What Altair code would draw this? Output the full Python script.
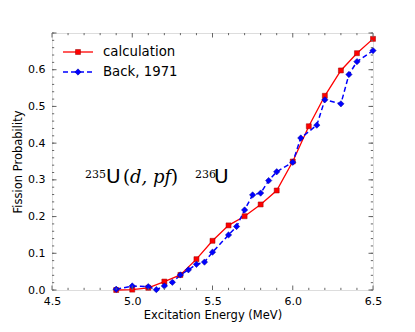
import altair as alt
import pandas as pd

calc_energy = [4.9, 5.0, 5.1, 5.2, 5.3, 5.4, 5.5, 5.6, 5.7, 5.8, 5.9, 6.0, 6.1, 6.2, 6.3, 6.4, 6.5]
calc_prob = [0.0, 0.001, 0.006, 0.023, 0.041, 0.084, 0.134, 0.176, 0.201, 0.233, 0.271, 0.350,
             0.446, 0.529, 0.598, 0.645, 0.684]
back_energy = [4.9, 5.0, 5.1, 5.15, 5.2, 5.25, 5.3, 5.35, 5.4, 5.45, 5.5, 5.6, 5.65, 5.7, 5.75,
               5.8, 5.85, 5.9, 6.0, 6.05, 6.15, 6.2, 6.3, 6.35, 6.4, 6.5]
back_prob = [0.002, 0.011, 0.009, 0.001, 0.011, 0.021, 0.041, 0.055, 0.070, 0.076, 0.103, 0.150,
             0.173, 0.218, 0.259, 0.264, 0.298, 0.322, 0.348, 0.414, 0.449, 0.518, 0.507, 0.587,
             0.622, 0.652]
x_major = [4.5, 5.0, 5.5, 6.0, 6.5]
x_minor = [4.6, 4.7, 4.8, 4.9, 5.1, 5.2, 5.3, 5.4, 5.6, 5.7, 5.8, 5.9, 6.1, 6.2, 6.3, 6.4]
y_major = [0.0, 0.1, 0.2, 0.3, 0.4, 0.5, 0.6, 0.7]
y_labels = [0.0, 0.1, 0.2, 0.3, 0.4, 0.5, 0.6]
y_minor = [round(i * 0.02, 2) for i in range(36)]

W, H = 321, 257
FRAME = "#666666"
RED = "#ff0000"
BLUE = "#0000ff"
SANS = "DejaVu Sans"
SERIF = "DejaVu Serif"

xs = alt.Scale(domain=[4.5, 6.5], nice=False, zero=False)
ys = alt.Scale(domain=[0, 0.7], nice=False)

calc_df = pd.DataFrame({"E": calc_energy, "P": calc_prob})
back_df = pd.DataFrame({"E": back_energy, "P": back_prob})

xaxis = alt.Axis(values=x_major, format=".1f", title="Excitation Energy (MeV)", ticks=False,
                 domain=False, grid=False, labelFlush=False, labelOverlap=False, labelPadding=5,
                 titlePadding=3, labelFont=SANS, labelFontSize=11, titleFont=SANS,
                 titleFontSize=11.5, titleFontWeight="normal", labelColor="black",
                 titleColor="black")
yaxis = alt.Axis(values=y_labels, format=".1f", title="Fission Probability", ticks=False,
                 domain=False, grid=False, labelFlush=False, labelOverlap=False, labelPadding=7,
                 titlePadding=4, labelFont=SANS, labelFontSize=11, titleFont=SANS,
                 titleFontSize=11.5, titleFontWeight="normal", labelColor="black",
                 titleColor="black")


def X(f):
    return alt.X(f, scale=xs, axis=xaxis, title="Excitation Energy (MeV)")


def Y(f):
    return alt.Y(f, scale=ys, axis=yaxis, title="Fission Probability")


calc_line = alt.Chart(calc_df).mark_line(color=RED, strokeWidth=1.3).encode(
    x=X("E:Q"), y=Y("P:Q"))
calc_pts = alt.Chart(calc_df).mark_point(shape="square", filled=True, size=25, color=RED,
                                         stroke="#990000", strokeWidth=0.5, opacity=1).encode(
    x=X("E:Q"), y=Y("P:Q"))
back_line = alt.Chart(back_df).mark_line(color=BLUE, strokeWidth=1.5, strokeDash=[5, 3]).encode(
    x=X("E:Q"), y=Y("P:Q"))
back_pts = alt.Chart(back_df).mark_point(shape="diamond", filled=True, size=40, color=BLUE,
                                         stroke="#000099", strokeWidth=0.5, opacity=1).encode(
    x=X("E:Q"), y=Y("P:Q"))


def xticks(vals, length):
    d = pd.DataFrame({"v": vals})
    b = alt.Chart(d).mark_rule(color=FRAME, strokeWidth=1).encode(
        x=X("v:Q"), y=alt.value(H), y2=alt.value(H - length))
    t = alt.Chart(d).mark_rule(color=FRAME, strokeWidth=1).encode(
        x=X("v:Q"), y=alt.value(0), y2=alt.value(length))
    return [b, t]


def yticks(vals, length):
    d = pd.DataFrame({"v": vals})
    l = alt.Chart(d).mark_rule(color=FRAME, strokeWidth=1).encode(
        y=Y("v:Q"), x=alt.value(0), x2=alt.value(length))
    r = alt.Chart(d).mark_rule(color=FRAME, strokeWidth=1).encode(
        y=Y("v:Q"), x=alt.value(W), x2=alt.value(W - length))
    return [l, r]


one = pd.DataFrame({"a": [0]})

leg = [
    alt.Chart(one).mark_rule(color=RED, strokeWidth=1.3).encode(
        x=alt.value(11), x2=alt.value(41), y=alt.value(19)),
    alt.Chart(one).mark_point(shape="square", filled=True, size=25, color=RED, stroke="#990000",
                              strokeWidth=0.5, opacity=1).encode(x=alt.value(26), y=alt.value(19)),
    alt.Chart(one).mark_text(text="calculation", font=SANS, fontSize=13.3, align="left",
                             baseline="middle", color="black").encode(
        x=alt.value(51), y=alt.value(19)),
    alt.Chart(one).mark_rule(color=BLUE, strokeWidth=1.5, strokeDash=[5, 3]).encode(
        x=alt.value(11), x2=alt.value(41), y=alt.value(39)),
    alt.Chart(one).mark_point(shape="diamond", filled=True, size=40, color=BLUE, stroke="#000099",
                              strokeWidth=0.5, opacity=1).encode(x=alt.value(26), y=alt.value(39)),
    alt.Chart(one).mark_text(text="Back, 1971", font=SANS, fontSize=13.3, align="left",
                             baseline="middle", color="black").encode(
        x=alt.value(51), y=alt.value(39)),
]


def txt(s, x, y, font, size, style="normal"):
    return alt.Chart(one).mark_text(text=s, font=font, fontSize=size, fontStyle=style,
                                    align="left", baseline="alphabetic", color="black").encode(
        x=alt.value(x), y=alt.value(y))


ann = [
    txt("235", 33, 145, SERIF, 11),
    txt("U", 54, 150, SANS, 20),
    txt("(", 71, 150, SERIF, 18),
    txt("d, pf", 78, 150, SERIF, 18, "italic"),
    txt(")", 119, 150, SERIF, 18),
    txt("236", 143, 145, SERIF, 11),
    txt("U", 162, 150, SANS, 20),
]

layers = [calc_line, back_line, calc_pts, back_pts]
layers += xticks(x_major, 4.5) + xticks(x_minor, 2.2) + yticks(y_major, 4.5) + yticks(y_minor, 2.2)
layers += leg + ann

chart = alt.layer(*layers).properties(
    width=W, height=H,
    autosize=alt.AutoSizeParams(type="none"),
    padding={"left": 44, "top": 25, "right": 30, "bottom": 40},
).configure_view(stroke=FRAME, strokeWidth=1).configure(background="white")

chart.save("out.html", embed_options={"renderer": "svg", "actions": False})
